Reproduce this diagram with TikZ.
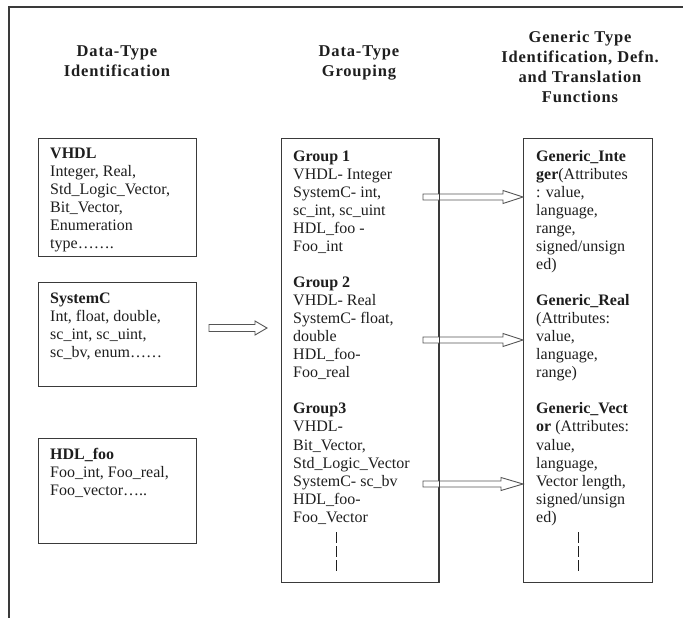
\documentclass[tikz,border=0pt]{standalone}
\usepackage{fontspec}
\setmainfont{Liberation Serif}
\newfontfamily\headfont[LetterSpace=5]{Liberation Serif}
\usetikzlibrary{calc}
\definecolor{ink}{HTML}{1E1E1E}
\definecolor{rulegray}{HTML}{3A3A3A}
\definecolor{arrowgray}{HTML}{555555}

% hollow block arrow: start, tip, shaft half-height, head half-height, head length
\newcommand\blockarrow[5]{%
  \draw[hollow] let \p1=(#1), \p2=(#2) in
    (\x1,\y1+#3pt) -- (\x2-#5pt,\y1+#3pt) -- (\x2-#5pt,\y1+#4pt) -- (\x2,\y1)
    -- (\x2-#5pt,\y1-#4pt) -- (\x2-#5pt,\y1-#3pt) -- (\x1,\y1-#3pt) -- cycle;}

\tikzset{
  panel/.style={draw=rulegray, line width=1.1pt, anchor=north west, inner sep=0pt},
  body/.style={anchor=north west, inner sep=0pt, align=left, text=ink,
    font=\fontsize{16}{18.05}\selectfont},
  head/.style={anchor=north, inner sep=0pt, align=center, text=ink,
    font=\headfont\bfseries\fontsize{16.5}{20}\selectfont},
  hollow/.style={draw=arrowgray, fill=white, line width=0.9pt, line join=miter},
  gap/.style={draw=ink, line width=0.9pt, dash pattern=on 11pt off 3pt},
  frame/.style={draw=rulegray, line width=1.1pt}
}

\begin{document}
\begin{tikzpicture}[x=1pt, y=-1pt]
\useasboundingbox (0,0) rectangle (683,618);

% open outer frame
\draw[frame] (9,618) -- (9,7) -- (683,7);

% column headings
\node[head] (h1) at (117,43) {\rule{0pt}{13pt}Data-Type\\Identification};
\node[head] (h2) at (359,43) {\rule{0pt}{13pt}Data-Type\\Grouping};
\node[head] (h3) at (580,29) {\rule{0pt}{13pt}Generic Type\\Identification, Defn.\\and Translation\\Functions};

% block arrows (drawn first so the panel borders run over them)
\coordinate (l0) at (209,328);
\coordinate (l1) at (267,328);
\blockarrow{l0}{l1}{3.5}{7}{12}

\coordinate (g1) at (423,197);
\coordinate (g2) at (423,340);
\coordinate (g3) at (423,484);
\coordinate (t1) at (523,197);
\coordinate (t2) at (523,340);
\coordinate (t3) at (523,484);

% language panels
\node[panel, minimum width=158pt, minimum height=118pt] (vhdl) at (38,138) {};
\node[panel, minimum width=158pt, minimum height=104pt] (sysc) at (38,282) {};
\node[panel, minimum width=158pt, minimum height=105pt] (hdlf) at (38,438) {};

% grouping and generic panels
\node[panel, minimum width=157pt, minimum height=444pt] (grp) at (281,138) {};
\node[panel, minimum width=129pt, minimum height=444pt] (gen) at (523,138) {};

\blockarrow{g1}{gen.west |- g1}{3}{6.5}{20}
\blockarrow{g2}{gen.west |- g2}{3}{6.5}{20}
\blockarrow{g3}{gen.west |- g3}{3}{6.5}{22}
\draw[draw=rulegray, line width=1.1pt] (grp.north east) -- (grp.south east);

\node[body] (vhdlt) at (50,146) {\rule{0pt}{12pt}\textbf{VHDL}\\
  Integer, Real,\\ Std\_Logic\_Vector,\\ Bit\_Vector,\\ Enumeration\\ type…….};
\node[body] (sysct) at (50,291) {\rule{0pt}{12pt}\textbf{SystemC}\\
  Int, float, double,\\ sc\_int, sc\_uint,\\ sc\_bv, enum……};
\node[body] (hdlft) at (50,447) {\rule{0pt}{12pt}\textbf{HDL\_foo}\\
  Foo\_int, Foo\_real,\\ Foo\_vector…..};

\node[body] (grpt) at (293,149) {\rule{0pt}{12pt}\textbf{Group 1}\\
  VHDL- Integer\\ SystemC- int,\\ sc\_int, sc\_uint\\ HDL\_foo -\\ Foo\_int\\[18.05pt]
  \textbf{Group 2}\\ VHDL- Real\\ SystemC- float,\\ double\\ HDL\_foo-\\ Foo\_real\\[18.05pt]
  \textbf{Group3}\\ VHDL-\\ Bit\_Vector,\\ Std\_Logic\_Vector\\ SystemC- sc\_bv\\ HDL\_foo-\\ Foo\_Vector};

\node[body] (gent) at (536,149) {\rule{0pt}{12pt}\textbf{Generic\_Inte}\\
  \textbf{ger}(Attributes\\ : value,\\ language,\\ range,\\ signed/unsign\\ ed)\\[18.05pt]
  \textbf{Generic\_Real}\\ (Attributes:\\ value,\\ language,\\ range)\\[18.05pt]
  \textbf{Generic\_Vect}\\ \textbf{or} (Attributes:\\ value,\\ language,\\ Vector length,\\ signed/unsign\\ ed)};

% continuation marks
\coordinate (c1) at (336,532);
\coordinate (c2) at (578,532);
\draw[gap] (c1) -- ++(0,41);
\draw[gap] (c2) -- ++(0,41);
\end{tikzpicture}
\end{document}
